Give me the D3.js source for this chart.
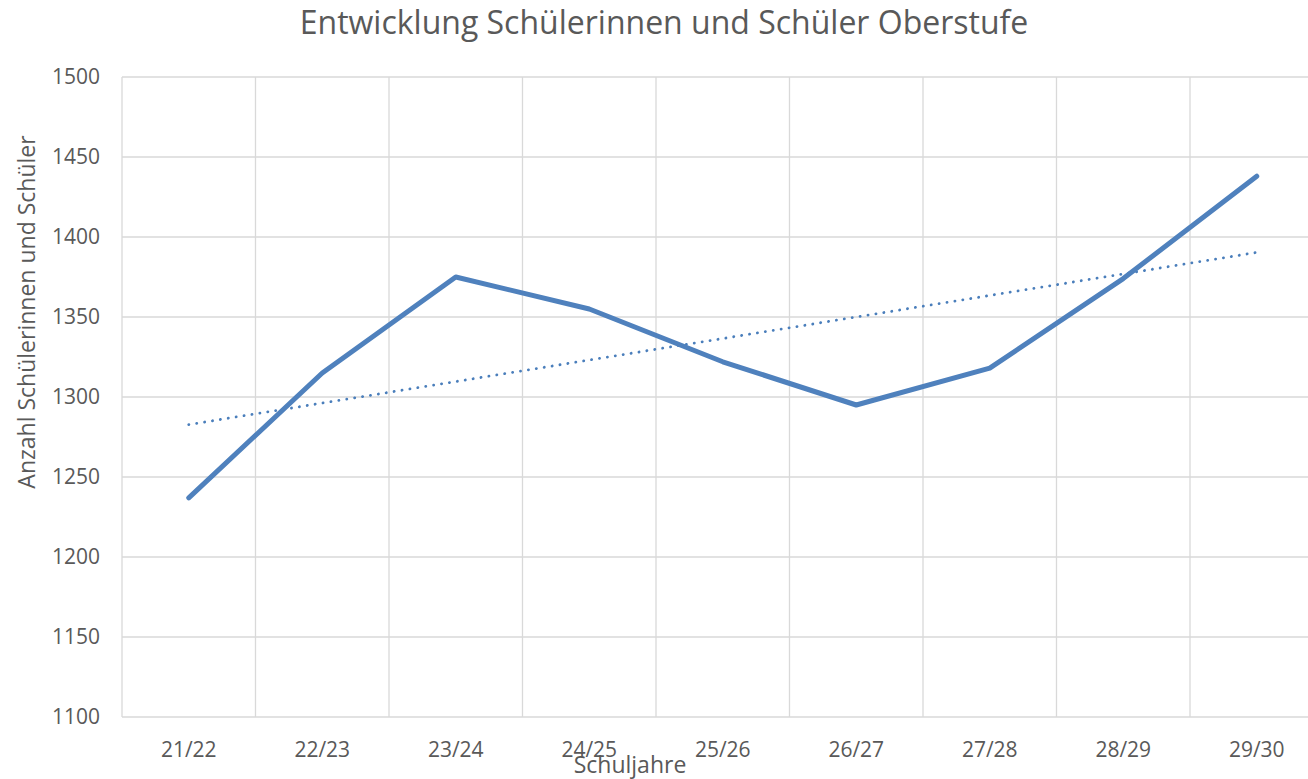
<!DOCTYPE html>
<html>
<head>
<meta charset="utf-8">
<script src="https://cdn.jsdelivr.net/npm/d3@7"></script>
<style>
  body { margin: 0; background: #fff; }
  svg { display: block; font-family: "Open Sans", "Noto Sans", sans-serif; }
</style>
</head>
<body>
<div id="chart-area"></div>
<script>
// Data
const years = ["21/22", "22/23", "23/24", "24/25", "25/26", "26/27", "27/28", "28/29", "29/30"];
const students = [1237, 1315, 1375, 1355, 1322, 1295, 1318, 1374, 1438];
const yTicks = [1100, 1150, 1200, 1250, 1300, 1350, 1400, 1450, 1500];

const title = "Entwicklung Schülerinnen und Schüler Oberstufe";
const xTitle = "Schuljahre";
const yTitle = "Anzahl Schülerinnen und Schüler";

const width = 1308, height = 779;
const margin = {top: 77, left: 122, bottom: 62};
const bandW = 133.5;

const svg = d3.select("#chart-area").append("svg")
    .attr("width", width)
    .attr("height", height);

const x = d3.scaleBand()
    .domain(years)
    .range([margin.left, margin.left + bandW * years.length]);

const y = d3.scaleLinear()
    .domain([1100, 1500])
    .range([height - margin.bottom, margin.top]);

const cx = d => x(d) + x.bandwidth() / 2;

// horizontal grid
svg.append("g")
    .selectAll("line")
    .data(yTicks)
    .enter().append("line")
        .attr("x1", margin.left)
        .attr("x2", width)
        .attr("y1", d => y(d))
        .attr("y2", d => y(d))
        .attr("stroke", "#d9d9d9")
        .attr("stroke-width", 1.3);

// vertical grid at category boundaries
svg.append("g")
    .selectAll("line")
    .data(years)
    .enter().append("line")
        .attr("x1", d => x(d))
        .attr("x2", d => x(d))
        .attr("y1", y(1500))
        .attr("y2", y(1100))
        .attr("stroke", "#d9d9d9")
        .attr("stroke-width", 1.3);

// y tick labels
svg.append("g")
    .selectAll("text")
    .data(yTicks)
    .enter().append("text")
        .attr("x", 100)
        .attr("y", d => y(d))
        .attr("dy", "0.35em")
        .attr("text-anchor", "end")
        .attr("fill", "#595959")
        .style("font-size", "21px")
        .text(d => d);

// x tick labels
svg.append("g")
    .selectAll("text")
    .data(years)
    .enter().append("text")
        .attr("x", d => cx(d))
        .attr("y", 757)
        .attr("text-anchor", "middle")
        .attr("fill", "#595959")
        .style("font-size", "21px")
        .text(d => d);

// trend line (least squares, like the spreadsheet trendline)
const idx = students.map((d, i) => i + 1);
const mx = d3.mean(idx), my = d3.mean(students);
const slope = d3.sum(idx, (v, i) => (v - mx) * (students[i] - my)) / d3.sum(idx, v => (v - mx) ** 2);
const icpt = my - slope * mx;
const first = years[0], last = years[years.length - 1];

svg.append("line")
    .attr("x1", cx(first))
    .attr("y1", y(icpt + slope * 1))
    .attr("x2", cx(last))
    .attr("y2", y(icpt + slope * years.length))
    .attr("stroke", "#4a7ebb")
    .attr("stroke-width", 2.8)
    .attr("stroke-linecap", "round")
    .attr("stroke-dasharray", "0.1 7.9");

// data line
const line = d3.line()
    .x((d, i) => cx(years[i]))
    .y(d => y(d));

svg.append("path")
    .datum(students)
    .attr("fill", "none")
    .attr("stroke", "#4f81bd")
    .attr("stroke-width", 5)
    .attr("stroke-linejoin", "round")
    .attr("stroke-linecap", "round")
    .attr("d", line);

// titles
svg.append("text")
    .attr("x", 664)
    .attr("y", 34)
    .attr("text-anchor", "middle")
    .attr("fill", "#595959")
    .style("font-size", "32px")
    .text(title);

svg.append("text")
    .attr("x", 630)
    .attr("y", 773)
    .attr("text-anchor", "middle")
    .attr("fill", "#595959")
    .style("font-size", "23px")
    .text(xTitle);

svg.append("text")
    .attr("transform", "translate(35,312) rotate(-90)")
    .attr("text-anchor", "middle")
    .attr("fill", "#595959")
    .style("font-size", "23px")
    .text(yTitle);
</script>
</body>
</html>
